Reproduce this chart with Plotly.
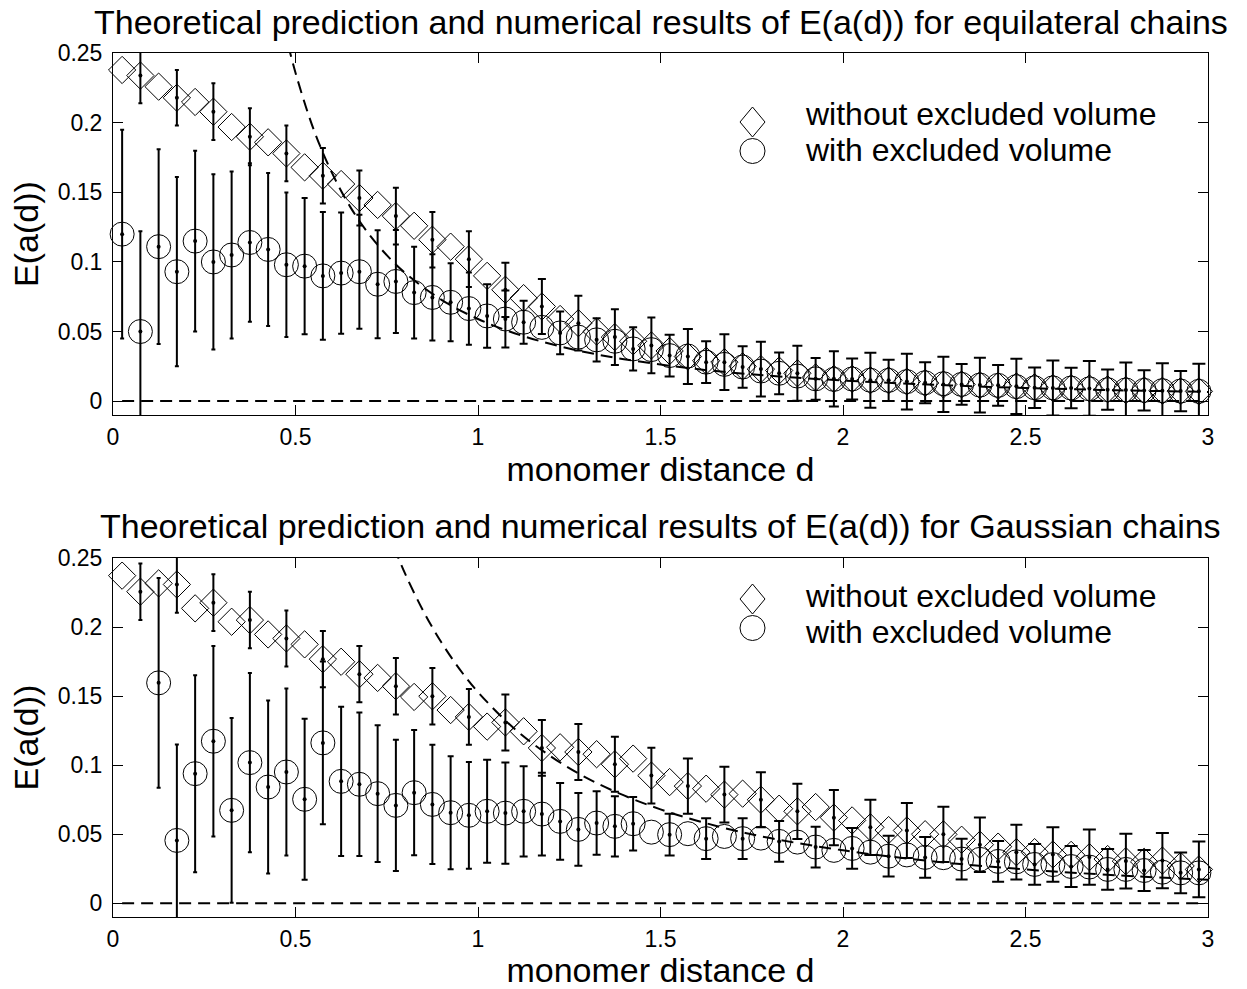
import plotly.graph_objects as go

# ---------------- data ----------------
d = [round(0.025 + 0.05 * i, 3) for i in range(60)]

# equilateral chains (top panel)
eq_without = [0.238, 0.234, 0.226, 0.218, 0.215, 0.208, 0.197, 0.190, 0.186, 0.178,
              0.168, 0.162, 0.156, 0.146, 0.141, 0.133, 0.126, 0.116, 0.111, 0.102,
              0.090, 0.080, 0.074, 0.068, 0.059, 0.056, 0.050, 0.046, 0.043, 0.040,
              0.036, 0.032, 0.029, 0.028, 0.025, 0.023, 0.022, 0.020, 0.017, 0.016,
              0.016, 0.015, 0.015, 0.014, 0.013, 0.012, 0.012, 0.0115, 0.011, 0.0106,
              0.010, 0.0094, 0.0093, 0.0091, 0.0085, 0.0079, 0.0078, 0.0074, 0.0072, 0.0070]
eq_with = [0.120, 0.050, 0.111, 0.093, 0.115, 0.100, 0.105, 0.114, 0.109, 0.098,
           0.097, 0.090, 0.092, 0.093, 0.084, 0.086, 0.078, 0.0745, 0.071, 0.0665,
           0.0612, 0.059, 0.0567, 0.053, 0.049, 0.046, 0.044, 0.043, 0.0375, 0.037,
           0.0327, 0.0324, 0.028, 0.0264, 0.0245, 0.0216, 0.020, 0.018, 0.016, 0.0156,
           0.0159, 0.015, 0.0149, 0.014, 0.0132, 0.0125, 0.012, 0.0115, 0.0113, 0.0104,
           0.0096, 0.0095, 0.0094, 0.0088, 0.0082, 0.0080, 0.0077, 0.0075, 0.0072, 0.0070]
eq_without_err = [None, 0.020, None, 0.020, None, 0.0204, None, 0.0204, None, 0.020,
                  None, 0.020, None, 0.0198, None, 0.0204, None, 0.020, None, 0.020,
                  None, 0.0195, None, 0.0198, None, 0.0197, None, 0.020, None, 0.020,
                  None, 0.0198, None, 0.020, None, 0.0197, None, 0.0198, None, 0.0199,
                  None, 0.0198, None, 0.0200, None, 0.0198, None, 0.0197, None, 0.0199,
                  None, 0.0198, None, 0.0197, None, 0.0199, None, 0.0198, None, 0.0198]
eq_with_err = [0.075, 0.072, 0.070, 0.068, 0.065, 0.063, 0.060, 0.057, 0.055, 0.052,
               0.049, 0.046, 0.0436, 0.041, 0.0388, 0.037, 0.033, 0.031, 0.028, 0.026,
               0.0228, 0.0205, 0.0155, None, 0.0154, None, 0.0156, None, 0.0156, None,
               0.015, None, 0.015, None, 0.015, None, 0.015, None, 0.015, None,
               0.0148, None, 0.0148, None, 0.0147, None, 0.0147, None, 0.0146, None,
               0.0146, None, 0.0146, None, 0.0145, None, 0.0145, None, 0.0145, None]
eq_theory_d = [0.48, 0.5, 0.55, 0.6, 0.65, 0.7, 0.75, 0.8, 0.9, 1.0, 1.1, 1.2, 1.3,
               1.4, 1.6, 1.8, 2.0, 2.25, 2.5, 2.75, 3.0]
eq_theory = [0.256, 0.236, 0.195, 0.164, 0.1396, 0.1204, 0.1049, 0.0922, 0.0728,
             0.059, 0.0488, 0.041, 0.0349, 0.0301, 0.0230, 0.0182, 0.0148, 0.0117,
             0.0094, 0.0078, 0.0066]

# Gaussian chains (bottom panel)
ga_without = [0.2374, 0.2258, 0.2318, 0.231, 0.2137, 0.2178, 0.204, 0.2052, 0.1948, 0.1919,
              0.1876, 0.1769, 0.175, 0.166, 0.1633, 0.1573, 0.1495, 0.150, 0.140, 0.135,
              0.128, 0.131, 0.1246, 0.1125, 0.113, 0.1096, 0.108, 0.1007, 0.1048, 0.0925,
              0.0878, 0.0849, 0.083, 0.0787, 0.0794, 0.075, 0.0685, 0.0666, 0.0697, 0.062,
              0.060, 0.055, 0.053, 0.0527, 0.050, 0.0499, 0.046, 0.0424, 0.041, 0.037,
              0.037, 0.0353, 0.035, 0.0334, 0.032, 0.0305, 0.030, 0.0309, 0.027, 0.0245]
ga_with = [None, None, 0.1597, 0.0455, 0.0939, 0.1174, 0.0673, 0.1019, 0.0842, 0.0951,
           0.0753, 0.1162, 0.0883, 0.0862, 0.0794, 0.0709, 0.0801, 0.0716, 0.0656, 0.0637,
           0.0666, 0.0653, 0.0666, 0.0646, 0.0593, 0.0535, 0.0581, 0.0557, 0.0576, 0.0515,
           0.0497, 0.0504, 0.0468, 0.0484, 0.0468, 0.0472, 0.0448, 0.0443, 0.0407, 0.0383,
           0.0397, 0.037, 0.0341, 0.035, 0.0332, 0.033, 0.032, 0.0318, 0.0303, 0.030,
           0.0281, 0.028, 0.0266, 0.0262, 0.0245, 0.0245, 0.0237, 0.0225, 0.022, 0.022]
ga_without_err = [None, 0.0205, None, 0.0205, None, 0.0206, None, 0.0205, None, 0.0203,
                  None, 0.0203, None, 0.0204, None, 0.0205, None, 0.0204, None, 0.0202,
                  None, 0.0203, None, 0.0202, None, 0.0203, None, 0.0200, None, 0.0202,
                  None, 0.0200, None, 0.0202, None, 0.0200, None, 0.0200, None, 0.0200,
                  None, 0.0200, None, 0.0199, None, 0.0200, None, 0.0198, None, 0.0199,
                  None, 0.0198, None, 0.0200, None, 0.0199, None, 0.0200, None, 0.0202]
ga_with_err = [None, None, 0.076, 0.0695, 0.0714, 0.069, 0.0669, 0.065, 0.0627, 0.0605,
               0.0583, 0.059, 0.054, 0.052, 0.0496, 0.0475, 0.0454, 0.0432, 0.041, 0.0387,
               0.0373, 0.0367, 0.0327, 0.030, 0.0278, 0.0263, 0.023, 0.0218, 0.0194, None,
               0.0151, None, 0.0148, None, 0.0148, None, 0.0148, None, 0.0148, None,
               0.0148, None, 0.0148, None, 0.0148, None, 0.0148, None, 0.0148, None,
               0.0148, None, 0.0148, None, 0.0148, None, 0.0148, None, 0.0148, None]
ga_theory_d = [0.77, 0.8, 0.85, 0.9, 0.95, 1.0, 1.1, 1.2, 1.3, 1.4, 1.5, 1.6, 1.7,
               1.8, 2.0, 2.25, 2.5, 2.75, 3.0]
ga_theory = [0.258, 0.239, 0.2118, 0.1889, 0.1695, 0.153, 0.1264, 0.1063, 0.0905,
             0.0781, 0.068, 0.0598, 0.0529, 0.0472, 0.0383, 0.0302, 0.0245, 0.0202, 0.0170]

titles = ["Theoretical prediction and numerical results of E(a(d)) for equilateral chains",
          "Theoretical prediction and numerical results of E(a(d)) for Gaussian chains"]
legend_labels = ["without excluded volume", "with excluded volume"]
x_ticks = [0, 0.5, 1, 1.5, 2, 2.5, 3]
y_ticks = [0, 0.05, 0.1, 0.15, 0.2, 0.25]

# ---------------- figure ----------------
FONT = "Liberation Sans, Arial, Helvetica, sans-serif"
BLACK = "black"
W, H = 1247, 989
ML, MR, MT, MB = 113, 39, 53, 72
PW, PH = W - ML - MR, H - MT - MB

fig = go.Figure()

cap_bins = [(0.0, 0.5, 2), (0.5, 1.0, 3), (1.0, 1.5, 4), (1.5, 2.0, 5), (2.0, 2.5, 6), (2.5, 3.1, 6.5)]


def add_panel(xa, ya, y_without, y_with, err_without, err_with, th_d, th_v):
    # zero reference line
    fig.add_trace(go.Scatter(x=d, y=[0] * len(d), mode="lines", xaxis=xa, yaxis=ya,
                             line=dict(color=BLACK, width=2, dash="12px,7px"),
                             showlegend=False, hoverinfo="skip"))
    # theoretical prediction
    fig.add_trace(go.Scatter(x=th_d, y=th_v, mode="lines", xaxis=xa, yaxis=ya,
                             line=dict(color=BLACK, width=2, dash="12px,7px", shape="spline"),
                             showlegend=False, name="theory"))
    # markers
    fig.add_trace(go.Scatter(x=d, y=y_without, mode="markers", xaxis=xa, yaxis=ya,
                             name=legend_labels[0], showlegend=False, cliponaxis=False,
                             marker=dict(symbol="diamond-open", size=21, color=BLACK,
                                         line=dict(width=1, color=BLACK))))
    fig.add_trace(go.Scatter(x=d, y=y_with, mode="markers", xaxis=xa, yaxis=ya,
                             name=legend_labels[1], showlegend=False, cliponaxis=False,
                             marker=dict(symbol="circle-open", size=24, color=BLACK,
                                         line=dict(width=1, color=BLACK))))
    # error bars with centre dots
    for ys, es in ((y_without, err_without), (y_with, err_with)):
        for lo, hi, w in cap_bins:
            idx = [i for i in range(len(d))
                   if es[i] is not None and ys[i] is not None and lo <= d[i] < hi]
            if not idx:
                continue
            fig.add_trace(go.Scatter(
                x=[d[i] for i in idx], y=[ys[i] for i in idx], mode="markers",
                xaxis=xa, yaxis=ya, showlegend=False,
                marker=dict(symbol="circle", size=4, color=BLACK),
                error_y=dict(type="data", array=[es[i] for i in idx], symmetric=True,
                             color=BLACK, thickness=2, width=w)))


add_panel("x", "y", eq_without, eq_with, eq_without_err, eq_with_err, eq_theory_d, eq_theory)
add_panel("x2", "y2", ga_without, ga_with, ga_without_err, ga_with_err, ga_theory_d, ga_theory)

top_dom = [(H - MB - 415) / PH, 1.0]
bot_dom = [0.0, (H - MB - 558) / PH]

axis_common = dict(showline=True, linecolor=BLACK, linewidth=1, mirror="ticks",
                   ticks="inside", ticklen=10, tickwidth=1, tickcolor=BLACK,
                   showgrid=False, zeroline=False,
                   tickfont=dict(family=FONT, size=23, color=BLACK))

xt = dict(text="monomer distance d", font=dict(family=FONT, size=34, color=BLACK), standoff=6)
yt = dict(text="E(a(d))", font=dict(family=FONT, size=34, color=BLACK), standoff=8)

fig.update_layout(
    width=W, height=H,
    margin=dict(l=ML, r=MR, t=MT, b=MB, autoexpand=False),
    paper_bgcolor="white", plot_bgcolor="white",
    font=dict(family=FONT, color=BLACK),
    showlegend=False,
    xaxis=dict(domain=[0, 1], range=[0, 3], tickvals=x_ticks, anchor="y", title=xt,
               ticklabelstandoff=1, **axis_common),
    yaxis=dict(domain=top_dom, range=[-0.01, 0.2502], tickvals=y_ticks, anchor="x",
               title=yt, ticklabelstandoff=5, **axis_common),
    xaxis2=dict(domain=[0, 1], range=[0, 3], tickvals=x_ticks, anchor="y2", title=xt,
                ticklabelstandoff=1, **axis_common),
    yaxis2=dict(domain=bot_dom, range=[-0.01, 0.2502], tickvals=y_ticks, anchor="x2",
                title=yt, ticklabelstandoff=5, **axis_common),
)


def px2paper(px, py):
    return (px - ML) / PW, (H - MB - py) / PH


annotations = []
shapes = []
# titles
for txt, py in ((titles[0], 22), (titles[1], 526)):
    _, yp = px2paper(0, py)
    annotations.append(dict(text=txt, x=0.5, y=yp, xref="paper", yref="paper",
                            xanchor="center", yanchor="middle", showarrow=False,
                            font=dict(family=FONT, size=34, color=BLACK)))

# legends (one per panel)
for dia_y, cir_y, t1_y, t2_y in ((122, 151, 114, 150), (599, 628, 596, 632)):
    cx = 752.5
    x0, y0 = px2paper(cx, dia_y)
    hx, hy = 12.5 / PW, 15 / PH
    shapes.append(dict(type="path", xref="paper", yref="paper",
                       path=f"M {x0 - hx},{y0} L {x0},{y0 + hy} L {x0 + hx},{y0} L {x0},{y0 - hy} Z",
                       line=dict(color=BLACK, width=1)))
    x1, y1 = px2paper(cx, cir_y)
    rx, ry = 12.5 / PW, 12.5 / PH
    shapes.append(dict(type="circle", xref="paper", yref="paper",
                       x0=x1 - rx, x1=x1 + rx, y0=y1 - ry, y1=y1 + ry,
                       line=dict(color=BLACK, width=1)))
    for lab, ty in ((legend_labels[0], t1_y), (legend_labels[1], t2_y)):
        xp, yp = px2paper(803, ty)
        annotations.append(dict(text=lab, x=xp, y=yp, xref="paper", yref="paper",
                                xanchor="left", yanchor="middle", showarrow=False,
                                font=dict(family=FONT, size=32, color=BLACK)))

fig.update_layout(annotations=annotations, shapes=shapes)

fig.write_html("out.html", config={"displayModeBar": False},
               post_script="document.body.style.margin='0px';document.body.style.overflow='hidden';")
